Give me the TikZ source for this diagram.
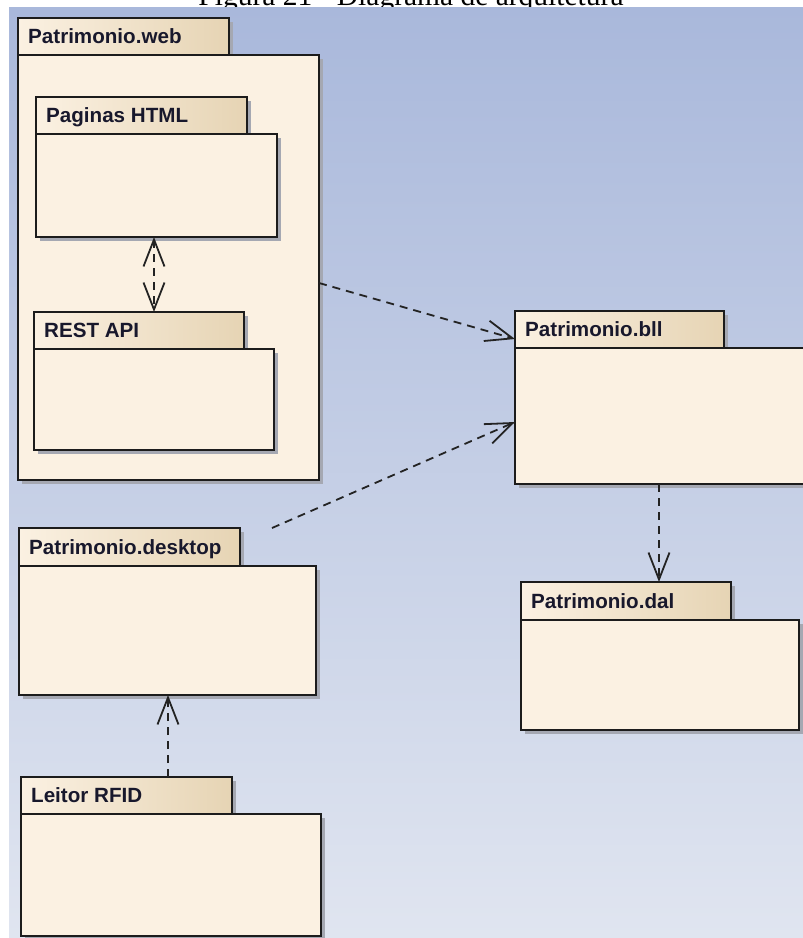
\documentclass[tikz,border=0pt]{standalone}
\usepackage{fontspec}
\usetikzlibrary{arrows.meta,calc,fit}
\newfontfamily\labfont{Liberation Sans}
\newfontfamily\capfont{Liberation Serif}
\definecolor{cream}{RGB}{251,241,226}
\definecolor{tan}{RGB}{230,212,180}
\definecolor{bgtop}{RGB}{169,184,219}
\definecolor{bgbot}{RGB}{224,229,240}
\definecolor{shadowc}{RGB}{165,168,178}
\definecolor{borderc}{RGB}{28,28,28}
\definecolor{textc}{RGB}{24,24,44}
\definecolor{linec}{RGB}{35,35,35}
\tikzset{
  pkgbody/.style={fit={#1}, inner sep=0pt, outer sep=0pt, draw=borderc, line width=2pt, fill=cream},
  pkgtab/.style={fit={#1}, inner sep=0pt, outer sep=0pt, draw=borderc, line width=2pt, left color=cream, right color=tan},
  pkglabel/.style={anchor=base west, inner sep=0pt, text=textc, font=\labfont\bfseries\fontsize{20.6}{24}\selectfont},
  barb/.tip={Straight Barb[length=27pt,width=21pt,line width=1.8pt]},
  dep/.style={draw=linec, line width=1.8pt, dash pattern=on 8pt off 6pt, -barb},
  dep2/.style={draw=linec, line width=1.8pt, dash pattern=on 8pt off 6pt, barb-barb}
}
% #1 name, #2 label, #3 x1, #4 tab top, #5 tab right, #6 tab bottom, #7 body right, #8 body bottom
\newcommand\pkgbox[8]{%
  \fill[shadowc] ({#3+4},{#4+4}) rectangle ({#5+4},{#6+2});
  \fill[shadowc] ({#3+4},{#6+4}) rectangle ({#7+4},{#8+4});
  \node[pkgbody={(#3,#6) (#7,#8)}] (#1Body) {};
  \node[pkgtab={(#3,#4) (#5,#6)}] (#1Tab) {};
  \node[pkglabel] (#1Lbl) at ({#3+10},{#6-12}) {#2};
}
\begin{document}
\begin{tikzpicture}[x=1pt,y=-1pt]
\useasboundingbox (0,0) rectangle (803,938);
\clip (0,0) rectangle (803,938);
% caption (cut off at the top, as in the reference)
\node[anchor=base, inner sep=0pt, font=\capfont\fontsize{29.5}{32}\selectfont] (cap) at (411,5) {Figura 21 - Diagrama de arquitetura};
% background
\shade[top color=bgtop, bottom color=bgbot] (9,7) rectangle (803,938);
% packages
\pkgbox{web}{Patrimonio.web}{18}{18}{229}{55}{319}{480}
\pkgbox{html}{Paginas HTML}{36}{97}{247}{134}{277}{237}
\pkgbox{rest}{REST API}{34}{312}{244}{349}{274}{450}
\pkgbox{bll}{Patrimonio.bll}{515}{311}{724}{348}{815}{484}
\pkgbox{desk}{Patrimonio.desktop}{19}{528}{240}{566}{316}{695}
\pkgbox{dal}{Patrimonio.dal}{521}{582}{731}{620}{799}{730}
\pkgbox{rfid}{Leitor RFID}{21}{777}{232}{814}{321}{936}
% connectors
\coordinate (w1) at ($(webBody.north east)+(0,228)$);
\coordinate (w2) at ($(bllTab.south west)+(0,-9)$);
\draw[dep] (w1) -- (w2);
\coordinate (d1) at ($(deskTab.north east)+(32,0)$);
\coordinate (d2) at ($(bllBody.north west)+(0,74)$);
\draw[dep] (d1) -- (d2);
\coordinate (b1) at ($(bllBody.south west)+(144,0)$);
\draw[dep] (b1) -- (b1 |- dalTab.north);
\coordinate (r1) at ($(rfidTab.north west)+(147,0)$);
\draw[dep] (r1) -- (r1 |- deskBody.south);
\coordinate (h1) at ($(htmlBody.south west)+(118,0)$);
\draw[dep2] (h1) -- (h1 |- restTab.north);
\end{tikzpicture}
\end{document}
